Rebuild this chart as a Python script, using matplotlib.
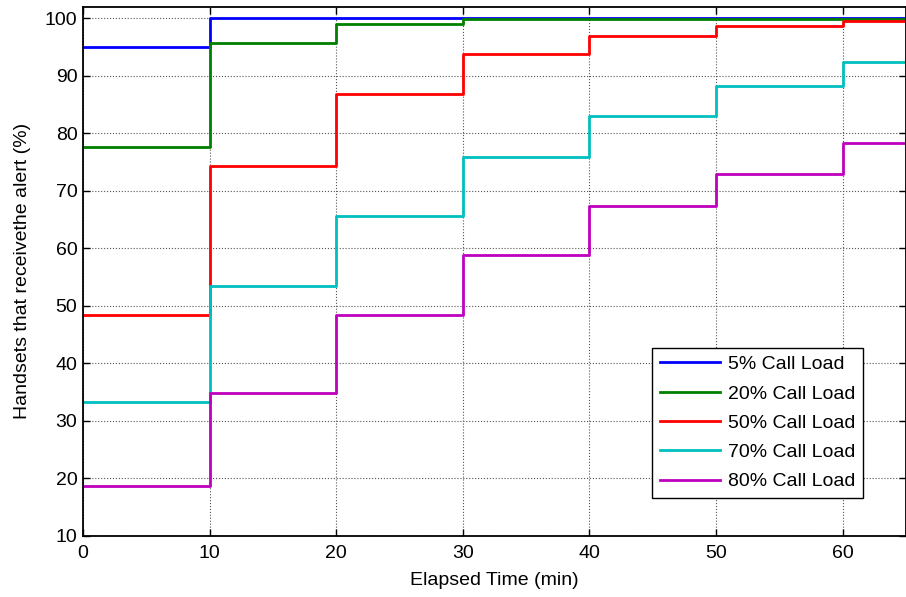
import numpy as np
import matplotlib
matplotlib.use("Agg")
import matplotlib.pyplot as plt

plt.rcParams['font.family'] = ['Liberation Sans', 'DejaVu Sans']

# step start times (min) and percentage of handsets reached
times = [0, 10, 20, 30, 40, 50, 60]
load_5 = [95.0, 100.0, 100.0, 100.0, 100.0, 100.0, 100.0]
load_20 = [77.7, 95.8, 99.1, 99.9, 99.9, 99.9, 99.9]
load_50 = [48.4, 74.4, 86.8, 93.8, 96.9, 98.7, 99.6]
load_70 = [33.3, 53.4, 65.6, 75.9, 83.0, 88.2, 92.4]
load_80 = [18.6, 34.9, 48.4, 58.9, 67.4, 73.0, 78.4]

labels = ['5% Call Load', '20% Call Load', '50% Call Load', '70% Call Load', '80% Call Load']
colors = ['#0000ff', '#008000', '#ff0000', '#00bfbf', '#bf00bf']
x_end = 65

fig = plt.figure(figsize=(9.06, 5.97), dpi=100)
ax = fig.add_axes([83 / 906, 1 - 535.7 / 597, 823 / 906, 528.7 / 597])

series = [load_5, load_20, load_50, load_70, load_80]
for vals, lab, col in zip(series, labels, colors):
    xs = np.append(times, x_end)
    ys = np.append(vals, vals[-1])
    ax.step(xs, ys, where='post', color=col, linewidth=2.0, label=lab)

ax.set_xlim(0, x_end)
ax.set_ylim(10, 102)
ax.set_xticks(np.arange(0, 61, 10))
ax.set_yticks(np.arange(10, 101, 10))
ax.tick_params(direction='in', top=True, right=True, length=5, labelsize=14, width=1)
ax.tick_params(axis='x', pad=7)
ax.tick_params(axis='y', pad=4)
ax.grid(True, linestyle=':', color='#555555', linewidth=0.8)
for sp in ax.spines.values():
    sp.set_linewidth(1.3)

ax.set_xlabel('Elapsed Time (min)', fontsize=14, labelpad=7)
ax.set_ylabel('Handsets that receivethe alert (%)', fontsize=14, labelpad=10)

leg = ax.legend(loc='lower right', bbox_to_anchor=(0.948, 0.071), borderaxespad=0,
                fontsize=14, fancybox=False, framealpha=1, edgecolor='black',
                handlelength=3.1, handletextpad=0.4, labelspacing=0.6,
                borderpad=0.4)
leg.get_frame().set_linewidth(1.0)

fig.savefig('out.png', dpi=100)
